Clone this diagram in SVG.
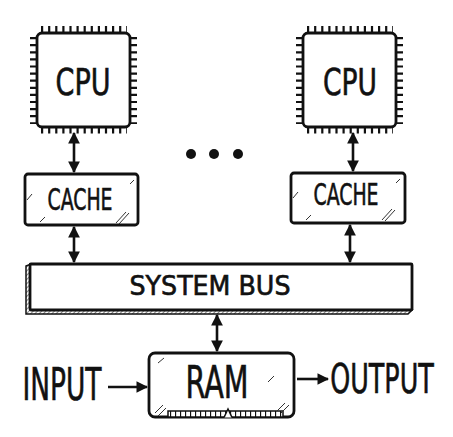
<svg xmlns="http://www.w3.org/2000/svg" width="453" height="437" viewBox="0 0 453 437">
<style>
.box{fill:#fff;stroke:#111;stroke-width:2.8;stroke-linejoin:round}
.pin{stroke:#111;stroke-width:7;fill:none;stroke-dasharray:2.2 4.9}
.t{font-family:"DejaVu Sans Condensed","DejaVu Sans",sans-serif;fill:#111;stroke:#111;stroke-width:0.6;text-anchor:middle}
.glint{stroke:#333;stroke-width:1;fill:none}
.con{stroke:#111;stroke-width:2.6;fill:none}
</style>
<defs>
<marker id="ah" viewBox="0 0 10 10" refX="9" refY="5" markerWidth="4.5" markerHeight="4.5" orient="auto-start-reverse" markerUnits="strokeWidth">
<path d="M0,0 L10,5 L0,10 Z" fill="#111"/>
</marker>
<pattern id="hatch" width="3" height="3" patternUnits="userSpaceOnUse" patternTransform="rotate(45)">
<rect width="3" height="3" fill="#fff"/>
<line x1="0" y1="0" x2="0" y2="3" stroke="#333" stroke-width="1.2"/>
</pattern>
<pattern id="ramp" width="5" height="6" patternUnits="userSpaceOnUse">
<rect width="5" height="6" fill="#fff"/>
<line x1="0.5" y1="0" x2="0.5" y2="6" stroke="#111" stroke-width="1.3"/>
</pattern>
<g id="chip">
<line class="pin" x1="41" y1="29.5" x2="127" y2="29.5"/>
<line class="pin" x1="41" y1="130" x2="127" y2="130"/>
<line class="pin" x1="33.5" y1="37" x2="33.5" y2="124"/>
<line class="pin" x1="133.5" y1="37" x2="133.5" y2="124"/>
<rect class="box" x="37" y="33" width="93" height="94" rx="5"/>
</g>
</defs>

<g id="cpu1">
<use href="#chip"/>
<text class="t" x="83" y="95" font-size="37" textLength="55" lengthAdjust="spacingAndGlyphs">CPU</text>
</g>

<g id="cpu2">
<use href="#chip" transform="translate(266,0)"/>
<text class="t" x="350" y="95" font-size="37" textLength="54" lengthAdjust="spacingAndGlyphs">CPU</text>
</g>

<g id="dots">
<circle cx="191" cy="154" r="5" fill="#111"/>
<circle cx="214" cy="154" r="5" fill="#111"/>
<circle cx="238" cy="154" r="5" fill="#111"/>
</g>

<g id="cache1">
<rect class="box" x="25" y="174" width="113" height="51" rx="3"/>
<text class="t" x="80" y="210" font-size="30" textLength="65" lengthAdjust="spacingAndGlyphs">CACHE</text>
<path class="glint" d="M27,200 l5,-6 M40,222 l5,-5 M116,223 l10,-11 M119,224 l10,-11 M130,184 l4,-4"/>
</g>

<g id="cache2">
<rect class="box" x="291" y="173" width="114" height="50" rx="3"/>
<text class="t" x="346" y="205" font-size="30" textLength="65" lengthAdjust="spacingAndGlyphs">CACHE</text>
<path class="glint" d="M293,198 l5,-6 M306,220 l5,-5 M382,220 l10,-11 M385,221 l10,-11 M396,183 l4,-4"/>
</g>

<g id="bus">
<path d="M26,266 L31,264 L31,310 L412,310 L408,314 L26,314 Z" fill="url(#hatch)" stroke="#111" stroke-width="1.5"/>
<rect class="box" x="30" y="264" width="382" height="46" rx="1"/>
<text class="t" x="210" y="295" font-size="26" textLength="161" lengthAdjust="spacingAndGlyphs">SYSTEM BUS</text>
</g>

<g id="ram">
<rect class="box" x="149" y="353" width="145" height="64" rx="6"/>
<rect x="168" y="411" width="115" height="6" fill="url(#ramp)" stroke="#111" stroke-width="1.5"/>
<path d="M224,417.5 L228,409 L232,417.5" fill="#fff" stroke="#111" stroke-width="1.5"/>
<text class="t" x="217" y="398" font-size="44" textLength="63" lengthAdjust="spacingAndGlyphs">RAM</text>
<path class="glint" d="M158,363 l6,-5 M155,413 l8,-8 M158,416 l8,-8 M268,382 l6,-6 M277,411 l8,-8 M281,413 l8,-8"/>
</g>

<g id="input">
<text class="t" x="62" y="400" font-size="44" textLength="79" lengthAdjust="spacingAndGlyphs">INPUT</text>
</g>

<g id="output">
<text class="t" transform="translate(382,393) scale(0.69,1)" x="0" y="0" font-size="41">OUTPUT</text>
</g>

<g id="connectors">
<line class="con" x1="74" y1="133" x2="74" y2="172" marker-start="url(#ah)" marker-end="url(#ah)"/>
<line class="con" x1="353" y1="133" x2="353" y2="171" marker-start="url(#ah)" marker-end="url(#ah)"/>
<line class="con" x1="74" y1="227" x2="74" y2="262" marker-start="url(#ah)" marker-end="url(#ah)"/>
<line class="con" x1="350" y1="225" x2="350" y2="262" marker-start="url(#ah)" marker-end="url(#ah)"/>
<line class="con" x1="217" y1="315" x2="217" y2="351" marker-start="url(#ah)" marker-end="url(#ah)"/>
<line class="con" x1="108" y1="387" x2="147" y2="387" marker-end="url(#ah)"/>
<line class="con" x1="297" y1="379" x2="328" y2="379" marker-end="url(#ah)"/>
</g>
</svg>
